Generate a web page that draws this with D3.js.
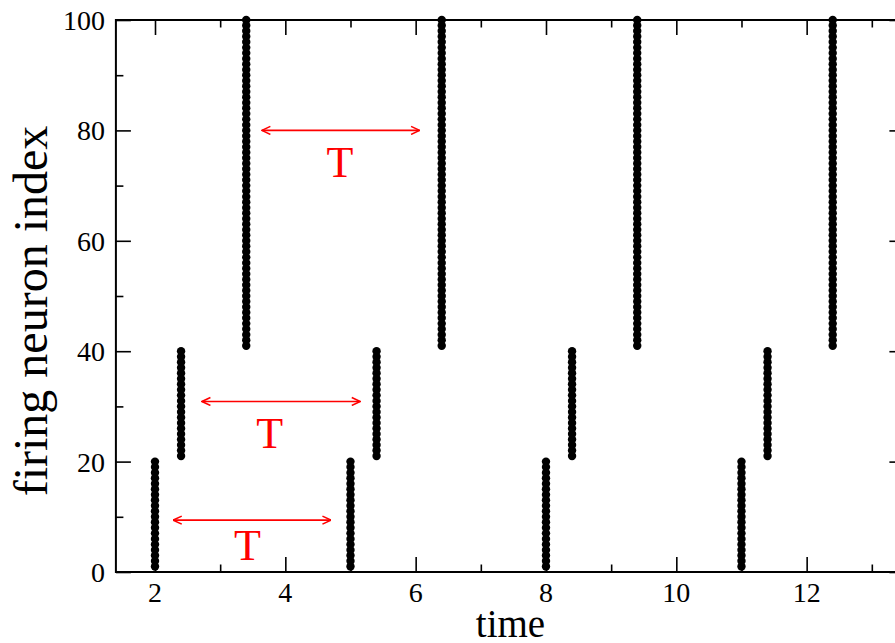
<!DOCTYPE html>
<html>
<head>
<meta charset="utf-8">
<script src="https://cdn.jsdelivr.net/npm/d3@7"></script>
<style>
  html, body { margin: 0; padding: 0; background: #fff; }
  svg { display: block; }
</style>
</head>
<body>
<svg id="chart" width="895" height="643"></svg>
<script>
// ---- data ----
const spikeTimes   = [2, 2.4, 3.4, 5, 5.4, 6.4, 8, 8.4, 9.4, 11, 11.4, 12.4];
const spikeFirst   = [1, 21, 41, 1, 21, 41, 1, 21, 41, 1, 21, 41];
const spikeLast    = [20, 40, 100, 20, 40, 100, 20, 40, 100, 20, 40, 100];
const xTickLabels  = [2, 4, 6, 8, 10, 12];
const yTickLabels  = [0, 20, 40, 60, 80, 100];
const arrowStart   = [3.64, 2.72, 2.28];
const arrowEnd     = [6.06, 5.15, 4.70];
const arrowLevel   = [80, 30.9, 9.4];
const labelText    = ["T", "T", "T"];
const labelX       = [4.84, 3.76, 3.42];
const labelY       = [71.6, 22.4, 2.2];
const xTitle = "time";
const yTitle = "firing neuron index";

const FONT = "'Liberation Serif', 'Times New Roman', Times, 'DejaVu Serif', serif";

// ---- build points ----
const points = [];
spikeTimes.forEach((t, i) => {
  for (let n = spikeFirst[i]; n <= spikeLast[i]; n++) points.push({t, n});
});

const svg = d3.select("#chart").attr("font-family", FONT);
const x = d3.scaleLinear().domain([1.4, 13.5]).range([115.9, 904.4]);
const y = d3.scaleLinear().domain([0, 100]).range([572, 20]);

const x0 = x.range()[0], x1 = x.range()[1];
const y0 = y.range()[0], y1 = y.range()[1];

// markers
const defs = svg.append("defs");
defs.append("marker")
  .attr("id", "head").attr("viewBox", "0 0 10 10")
  .attr("refX", 9.5).attr("refY", 5)
  .attr("markerWidth", 10).attr("markerHeight", 10)
  .attr("markerUnits", "userSpaceOnUse")
  .attr("orient", "auto-start-reverse")
  .append("path").attr("d", "M1,1 L9.5,5 L1,9")
  .attr("fill", "none").attr("stroke", "red").attr("stroke-width", 1.6);

// spikes
svg.append("g").selectAll("circle").data(points).join("circle")
  .attr("cx", d => x(d.t)).attr("cy", d => y(d.n)).attr("r", 4.2)
  .attr("fill", "#000");

// axes (ticks inward on all sides)
const majorLen = 15, minorLen = 7.5;
const xMinor = d3.range(2, 14, 1).filter(v => xTickLabels.indexOf(v) < 0);
const yMinor = d3.range(10, 100, 20);

function addAxis(axisFn, scale, ticks, len, transform) {
  const g = svg.append("g").attr("transform", transform)
    .call(axisFn(scale).tickValues(ticks).tickSize(len).tickSizeOuter(0).tickFormat(() => ""));
  g.select(".domain").remove();
  g.selectAll(".tick line").attr("stroke", "#000").attr("stroke-width", 1.6);
  return g;
}

addAxis(d3.axisTop, x, xTickLabels, majorLen, `translate(0,${y0})`);
addAxis(d3.axisTop, x, xMinor, minorLen, `translate(0,${y0})`);
addAxis(d3.axisBottom, x, xTickLabels, majorLen, `translate(0,${y1})`);
addAxis(d3.axisBottom, x, xMinor, minorLen, `translate(0,${y1})`);
addAxis(d3.axisRight, y, yTickLabels, majorLen, `translate(${x0},0)`);
addAxis(d3.axisRight, y, yMinor, minorLen, `translate(${x0},0)`);
addAxis(d3.axisLeft, y, yTickLabels, majorLen, `translate(${x1},0)`);
addAxis(d3.axisLeft, y, yMinor, minorLen, `translate(${x1},0)`);

// frame
svg.append("rect").attr("x", x0).attr("y", y1)
  .attr("width", x1 - x0).attr("height", y0 - y1)
  .attr("fill", "none").attr("stroke", "#000").attr("stroke-width", 2);

// tick labels
svg.append("g").selectAll("text").data(xTickLabels).join("text")
  .attr("font-family", FONT)
  .attr("x", d => x(d)).attr("y", 602)
  .attr("text-anchor", "middle").attr("font-size", 28).text(d => d);
svg.append("g").selectAll("text").data(yTickLabels).join("text")
  .attr("font-family", FONT)
  .attr("x", 105).attr("y", d => y(d) + 10)
  .attr("text-anchor", "end").attr("font-size", 28).text(d => d);

// titles
svg.append("text").attr("font-family", FONT).attr("x", 510.5).attr("y", 637)
  .attr("text-anchor", "middle").attr("font-size", 39).text(xTitle);
svg.append("text").attr("font-family", FONT)
  .attr("transform", `translate(47,311) rotate(-90)`)
  .attr("text-anchor", "middle").attr("font-size", 48).text(yTitle);

// arrows
svg.append("g").selectAll("line").data(arrowLevel).join("line")
  .attr("x1", (d, i) => x(arrowStart[i])).attr("x2", (d, i) => x(arrowEnd[i]))
  .attr("y1", d => y(d)).attr("y2", d => y(d))
  .attr("stroke", "red").attr("stroke-width", 1.6)
  .attr("marker-start", "url(#head)").attr("marker-end", "url(#head)");

svg.append("g").selectAll("text").data(labelText).join("text")
  .attr("font-family", FONT)
  .attr("x", (d, i) => x(labelX[i])).attr("y", (d, i) => y(labelY[i]))
  .attr("text-anchor", "middle").attr("font-size", 44).attr("fill", "red").text(d => d);
</script>
</body>
</html>
